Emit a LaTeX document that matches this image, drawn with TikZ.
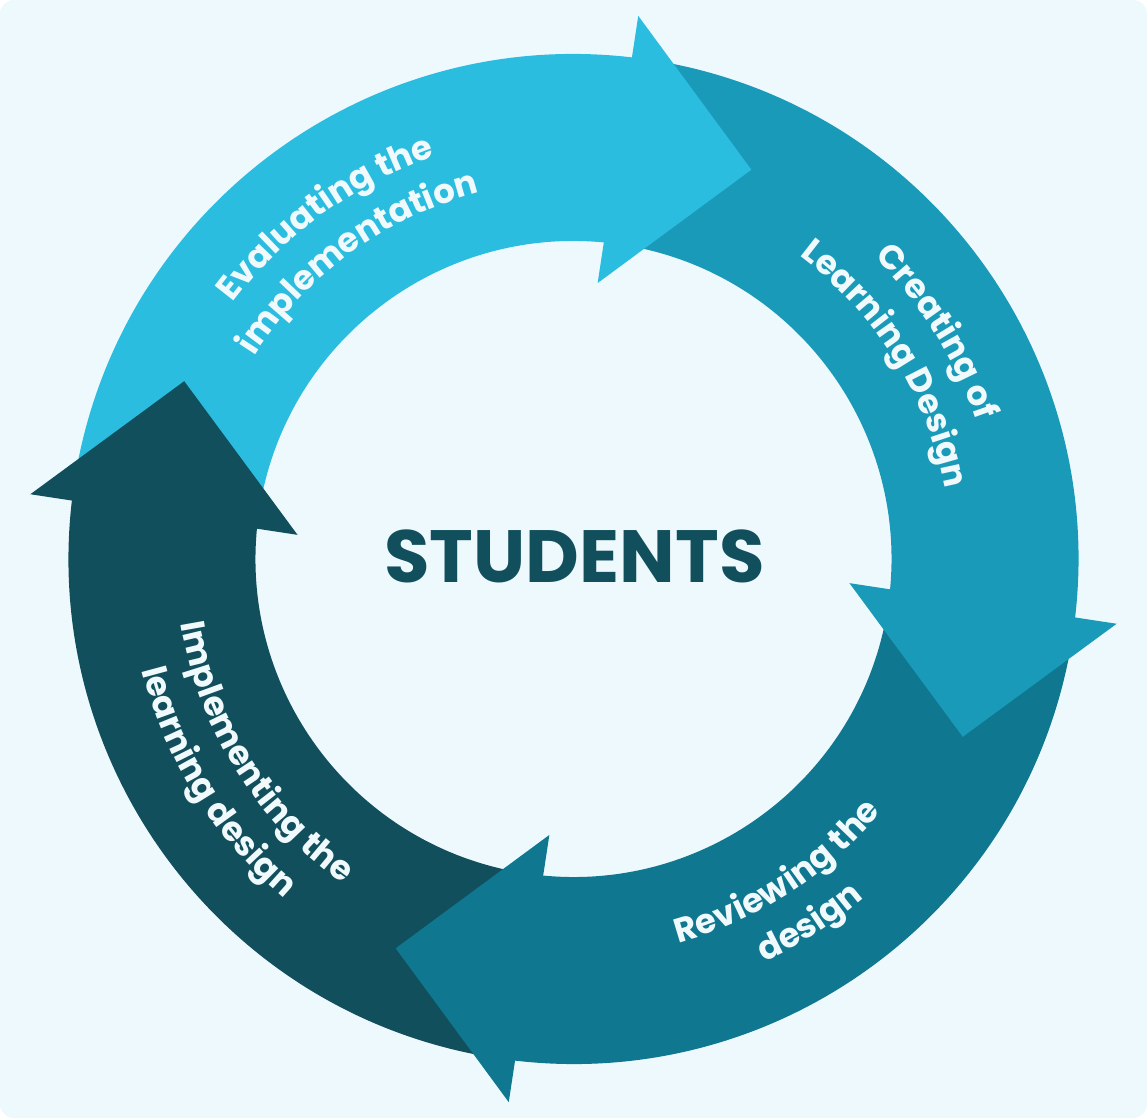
\documentclass[tikz,border=0pt]{standalone}
\usepackage{fontspec}
\setmainfont{Poppins}
\newfontfamily\labfont{Poppins}
\newfontfamily\headfont{Poppins}
\usetikzlibrary{decorations.text}
\definecolor{bgc}{HTML}{EEF9FD}
\definecolor{cA}{HTML}{2BBDE0}
\definecolor{cB}{HTML}{1A9AB9}
\definecolor{cC}{HTML}{0F778F}
\definecolor{cD}{HTML}{124F5D}
\definecolor{labc}{HTML}{F0FAFD}
\tikzset{
  arctext/.style={decorate, decoration={text along path, text align=center, text color=labc, text={|\labfont\bfseries\fontsize{34}{41}\selectfont|#1}}}
}
\begin{document}
\begin{tikzpicture}[x=1pt,y=1pt]
\fill[bgc, rounded corners=14pt] (-573.5,-559) rectangle (573.5,559);
\useasboundingbox (-573.5,-559) rectangle (573.5,559);
% ring bodies
\foreach \k/\c in {0/cA,1/cB,2/cC,3/cD}{
  \pgfmathsetmacro\sa{170-90*\k}
  \pgfmathsetmacro\ea{82-90*\k}
  \fill[\c] (\sa:505) arc[start angle=\sa, end angle=\ea, radius=505]
     -- (\ea:318) arc[start angle=\ea, end angle=\sa, radius=318] -- cycle;
}
% arrow heads
\foreach \k/\c in {0/cA,1/cB,2/cC,3/cD}{
  \fill[\c] ({83.2-90*\k}:547) -- ({65.45-90*\k}:428) -- ({85-90*\k}:277) -- cycle;
}
% labels
\path[arctext={Evaluating the}] (186:426) arc[start angle=186, end angle=66, radius=426];
\path[arctext={implementation}] (186:378) arc[start angle=186, end angle=66, radius=378];
\path[arctext={Creating of}] (92:426) arc[start angle=92, end angle=-28, radius=426];
\path[arctext={Learning Design}] (92:378) arc[start angle=92, end angle=-28, radius=378];
\path[arctext={Reviewing the}] (-117:398) arc[start angle=-117, end angle=3, radius=398];
\path[arctext={design}] (-117:446) arc[start angle=-117, end angle=3, radius=446];
\path[arctext={Implementing the}] (152:398) arc[start angle=152, end angle=272, radius=398];
\path[arctext={learning design}] (152:446) arc[start angle=152, end angle=272, radius=446];
\node[font=\headfont\bfseries\fontsize{74}{80}\selectfont, text=cD, inner sep=0pt] (students) at (1,2.3) {STUDENTS};
\end{tikzpicture}
\end{document}
